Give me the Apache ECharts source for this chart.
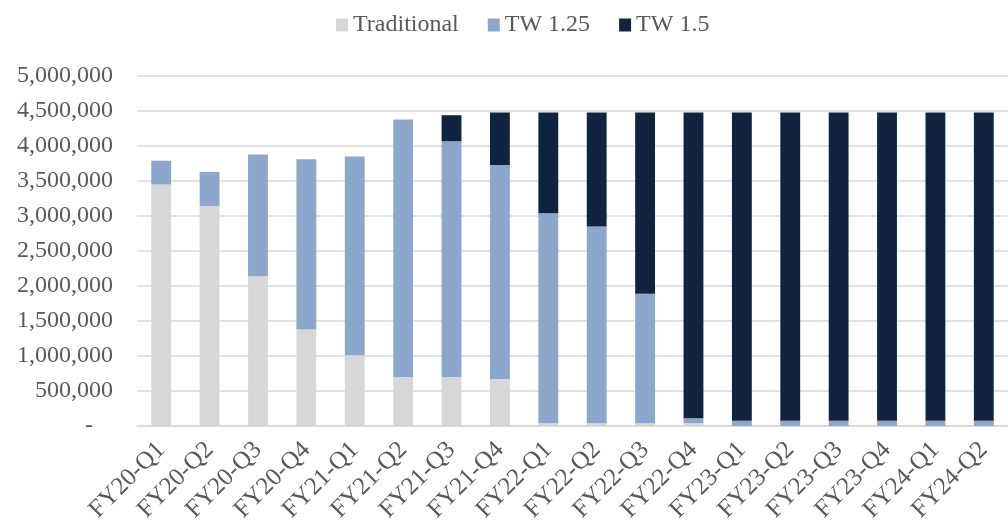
<!DOCTYPE html>
<html>
<head>
<meta charset="utf-8">
<script src="https://cdn.jsdelivr.net/npm/echarts@6/dist/echarts.min.js"></script>
<style>
  html, body { margin: 0; padding: 0; background: #fff; }
  #chart { width: 1008px; height: 527px; }
</style>
</head>
<body>
<div id="chart"></div>
<script>
  var categories = ['FY20-Q1', 'FY20-Q2', 'FY20-Q3', 'FY20-Q4', 'FY21-Q1', 'FY21-Q2', 'FY21-Q3', 'FY21-Q4',
    'FY22-Q1', 'FY22-Q2', 'FY22-Q3', 'FY22-Q4', 'FY23-Q1', 'FY23-Q2', 'FY23-Q3', 'FY23-Q4', 'FY24-Q1', 'FY24-Q2'];
  var traditional = [3450000, 3140000, 2140000, 1380000, 1010000, 700000, 700000, 670000,
    40000, 40000, 40000, 40000, 0, 0, 0, 0, 0, 0];
  var tw125 = [340000, 490000, 1740000, 2430000, 2840000, 3680000, 3370000, 3060000,
    3000000, 2810000, 1850000, 70000, 75000, 75000, 75000, 75000, 75000, 75000];
  var tw15 = [0, 0, 0, 0, 0, 0, 370000, 750000,
    1440000, 1630000, 2590000, 4370000, 4405000, 4405000, 4405000, 4405000, 4405000, 4405000];

  var font = '"Liberation Serif", "Times New Roman", serif';
  var chart = echarts.init(document.getElementById('chart'));

  function fmt (v) {
    if (v === 0) return '{z|-}';
    return v.toLocaleString('en-US');
  }

  function makeSeries (name, data, color) {
    return {
      name: name,
      type: 'bar',
      stack: 'total',
      barWidth: '41%',
      data: data,
      itemStyle: { color: color },
      emphasis: { disabled: true }
    };
  }

  chart.setOption({
    animation: false,
    textStyle: { fontFamily: font },
    legend: {
      left: 331,
      top: 8,
      itemWidth: 12,
      itemHeight: 13,
      itemGap: 29,
      icon: 'rect',
      textStyle: { fontFamily: font, fontSize: 24, color: '#595959' },
      data: ['Traditional', 'TW 1.25', 'TW 1.5']
    },
    grid: { left: 137, right: 0, top: 76, bottom: 101 },
    xAxis: {
      type: 'category',
      data: categories,
      axisLine: { lineStyle: { color: '#d9d9d9', width: 1.5 } },
      axisTick: { show: false },
      axisLabel: {
        rotate: 45,
        interval: 0,
        margin: 20,
        fontFamily: font,
        fontSize: 25,
        color: '#595959'
      }
    },
    yAxis: {
      type: 'value',
      min: 0,
      max: 5000000,
      interval: 500000,
      axisLine: { show: false },
      axisTick: { show: false },
      splitLine: { lineStyle: { color: '#d9d9d9', width: 1.5 } },
      axisLabel: {
        margin: 24,
        fontFamily: font,
        fontSize: 24,
        color: '#595959',
        formatter: fmt,
        rich: { z: { fontFamily: font, fontSize: 24, color: '#595959', padding: [0, 20, 0, 0] } }
      }
    },
    series: [
      makeSeries('Traditional', traditional, '#d6d7d9'),
      makeSeries('TW 1.25', tw125, '#8ca7cb'),
      makeSeries('TW 1.5', tw15, '#10243f')
    ]
  });
</script>
</body>
</html>
